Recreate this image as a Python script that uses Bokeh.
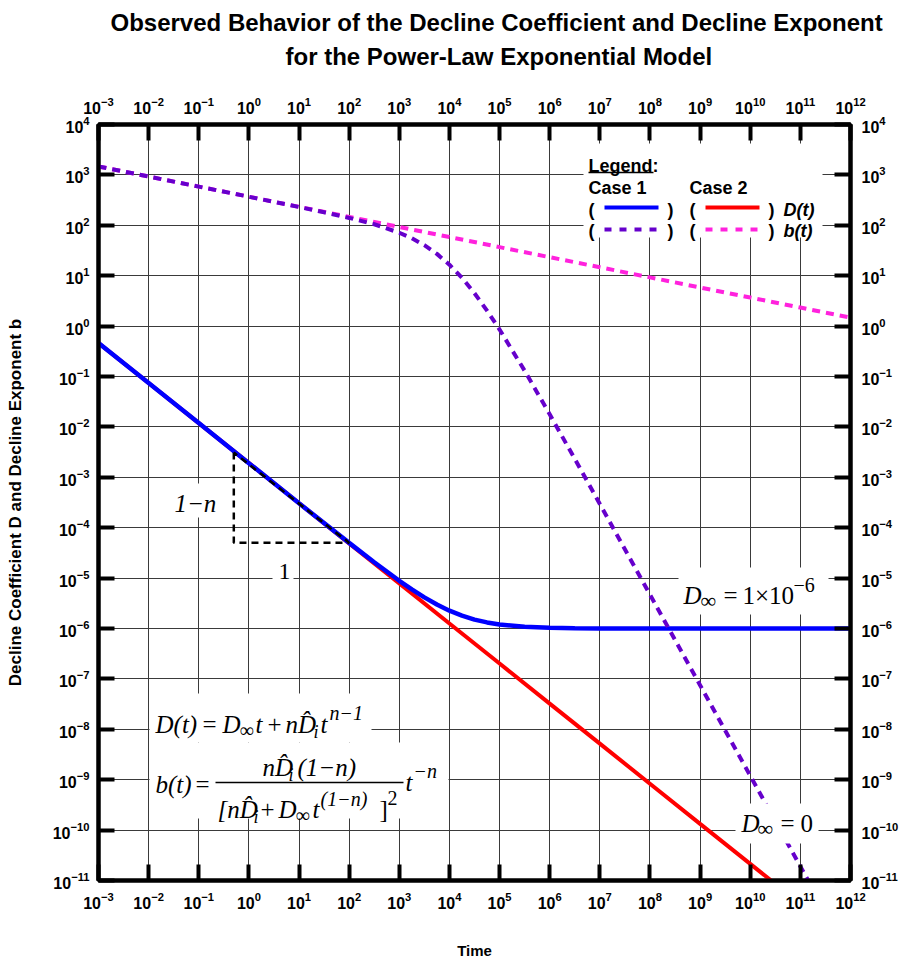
from bokeh.plotting import figure
from bokeh.models import LogAxis, FixedTicker, Label, Range1d, Title
from bokeh.embed import file_html
from bokeh.resources import INLINE

# ---------------- data ----------------
# Case 1 (D_inf = 1e-6): decline coefficient D(t)
t_D1 = [1e-3, 1e-2, 1e-1, 1.0, 10.0, 100.0, 316.2, 1e3, 1778.0, 3162.0, 5623.0,
        1e4, 17783.0, 31623.0, 56234.0, 1e5, 316228.0, 1e6, 3162278.0, 1e7, 1e8, 1e12]
D1 = [0.462, 0.0741, 0.0119, 1.91e-3, 3.05e-4, 5.0e-5, 2.06e-5, 8.85e-6, 5.97e-6, 4.14e-6, 2.99e-6,
      2.26e-6, 1.80e-6, 1.50e-6, 1.32e-6, 1.20e-6, 1.08e-6, 1.03e-6, 1.01e-6, 1.005e-6, 1.0e-6, 1.0e-6]

# Case 2 (D_inf = 0): decline coefficient D(t)
t_D2 = [1e-3, 1e-2, 1e-1, 1.0, 10.0, 100.0, 1e3, 1e4, 1e5, 1e6, 1e7, 1e8, 1e9, 1e10, 1e11]
D2 = [0.462, 0.0741, 0.0119, 1.91e-3, 3.05e-4, 4.90e-5, 7.85e-6, 1.26e-6, 2.02e-7, 3.24e-8,
      5.19e-9, 8.32e-10, 1.33e-10, 2.14e-11, 3.43e-12]

# Case 1: decline exponent b(t)
t_b1 = [1e-3, 1e-2, 1e-1, 1.0, 10.0, 31.62, 100.0, 316.2, 1e3, 1778.0, 3162.0, 5623.0,
        1e4, 17783.0, 31623.0, 56234.0, 1e5, 316228.0, 1e6, 3162278.0, 1e7, 1e8, 1e9, 1e10, 1e11, 3.162e11]
b1 = [1470.0, 927.0, 585.0, 369.0, 231.0, 181.0, 140.0, 105.0, 71.2, 55.3, 40.3, 27.1,
      16.5, 9.05, 4.49, 2.03, 0.855, 0.130, 0.0178, 2.32e-3, 2.96e-4, 4.7e-6, 7.5e-8, 1.2e-9, 1.9e-11, 2.4e-12]

# Case 2: decline exponent b(t)
t_b2 = [1e-3, 1e-2, 1e-1, 1.0, 10.0, 100.0, 1e3, 1e4, 1e5, 1e6, 1e7, 1e8, 1e9, 1e10, 1e11, 1e12]
b2 = [1470.0, 927.0, 585.0, 369.0, 233.0, 147.0, 92.6, 58.4, 36.9, 23.3, 14.7, 9.26, 5.84, 3.69, 2.33, 1.47]

# slope triangle (1 : 1-n)
tri_t = [0.5, 0.5, 100.0, 0.5]
tri_v = [3.1e-3, 5.0e-5, 5.0e-5, 3.1e-3]

x_exponents = list(range(-3, 13))
y_exponents = list(range(-11, 5))

TITLE1 = "Observed Behavior of the Decline Coefficient and Decline Exponent"
TITLE2 = "for the Power-Law Exponential Model"
XLABEL = "Time"
YLABEL = "Decline Coefficient D and Decline Exponent b"

# ---------------- figure ----------------
XMIN, XMAX = 1e-3, 1e12
YMIN, YMAX = 1e-11, 1e4

p = figure(width=902, height=962, x_axis_type="log", y_axis_type="log",
           x_range=Range1d(XMIN, XMAX), y_range=Range1d(YMIN, YMAX),
           output_backend="svg", toolbar_location=None,
           min_border_left=98, min_border_right=52, min_border_top=124, min_border_bottom=82)
p.background_fill_color = "white"
p.border_fill_color = "white"
p.outline_line_color = "black"
p.outline_line_width = 4

xticks = [10.0 ** k for k in x_exponents]
yticks = [10.0 ** k for k in y_exponents]

bottom_axis = p.below[0]
left_axis = p.left[0]
top_axis = LogAxis()
right_axis = LogAxis()
p.add_layout(top_axis, "above")
p.add_layout(right_axis, "right")

for ax in [bottom_axis, top_axis]:
    ax.ticker = FixedTicker(ticks=xticks, minor_ticks=[])
for ax in [left_axis, right_axis]:
    ax.ticker = FixedTicker(ticks=yticks, minor_ticks=[])

for ax in [bottom_axis, top_axis, left_axis, right_axis]:
    ax.axis_line_color = "black"
    ax.axis_line_width = 4
    ax.major_tick_in = 16
    ax.major_tick_out = 0
    ax.major_tick_line_width = 4
    ax.major_tick_line_color = "black"
    ax.minor_tick_line_color = None
    ax.major_label_text_font = "Liberation Sans"
    ax.major_label_text_font_style = "bold"
    ax.major_label_text_font_size = "16px"
    ax.major_label_text_color = "black"
left_axis.major_label_standoff = 9
right_axis.major_label_standoff = 11
top_axis.major_label_standoff = 11
bottom_axis.major_label_standoff = 11

bottom_axis.axis_label = XLABEL
left_axis.axis_label = YLABEL
for ax in [bottom_axis, left_axis]:
    ax.axis_label_text_font = "Liberation Sans"
    ax.axis_label_text_font_style = "bold"
    ax.axis_label_text_color = "black"
bottom_axis.axis_label_text_font_size = "15px"
left_axis.axis_label_text_font_size = "17px"
bottom_axis.axis_label_standoff = 30
left_axis.axis_label_standoff = 25

p.xgrid[0].ticker = FixedTicker(ticks=xticks, minor_ticks=[])
p.ygrid[0].ticker = FixedTicker(ticks=yticks, minor_ticks=[])
p.grid.grid_line_color = "#3a3a3a"
p.grid.grid_line_width = 1

# titles: spacer, line 2, line 1 (stacked outward from the top axis)
title_kw = dict(text_font="Liberation Sans", text_font_size="24px", text_font_style="bold",
                text_color="black", align="left")
p.add_layout(Title(text=" ", text_font_size="10px", standoff=6), "above")
p.add_layout(Title(text=TITLE2, offset=187, standoff=10, **title_kw), "above")
p.add_layout(Title(text=TITLE1, offset=12, standoff=0, **title_kw), "above")

# ---------------- annotation helpers (positions given in reference pixels) ----------------
PXD = 752 / 15.0
PYD = 756 / 15.0


def X(px):
    return 10 ** ((px - 98) / PXD - 3)


def Y(py):
    return 10 ** (4 - (py - 124) / PYD)


def wbox(x0, x1, y0, y1):
    p.quad(left=[X(x0)], right=[X(x1)], top=[Y(y0)], bottom=[Y(y1)],
           fill_color="white", fill_alpha=1.0, line_color=None)


def seg(x0, x1, y, color="black", width=1.5, dash="solid"):
    p.segment(x0=[X(x0)], y0=[Y(y)], x1=[X(x1)], y1=[Y(y)], line_color=color,
              line_width=width, line_dash=dash)


SERIF = "Liberation Serif"
SANS = "Liberation Sans"


def txt(text, px, py, size, style="italic", font=SERIF, align="left"):
    k = 0.23 if font == SERIF else 0.19   # baseline correction
    p.add_layout(Label(x=X(px), y=Y(py - k * size), text=text, text_font=font,
                       text_font_size=f"{size}px", text_font_style=style, text_color="black",
                       text_align=align, text_baseline="alphabetic"))


# ---------------- curves ----------------
BLUE, RED, PURPLE, MAGENTA = "#0000FF", "#FF0000", "#6600CC", "#FF22DD"
p.line(t_D2, D2, line_color=RED, line_width=4)
p.line(t_D1, D1, line_color=BLUE, line_width=4.5)
p.line(t_b2, b2, line_color=MAGENTA, line_width=4, line_dash="8 6")
p.line(t_b1, b1, line_color=PURPLE, line_width=4, line_dash="8 6")
p.line(tri_t, tri_v, line_color="black", line_width=2.5, line_dash="7 5")

# white patches behind texts (drawn over grid and curves)
wbox(149, 371, 693, 742)
wbox(149, 448, 742, 818)
wbox(168, 224, 483, 517)
wbox(272, 293, 560, 592)
wbox(678, 828, 567, 614)
wbox(735, 818, 803, 843)
wbox(583, 822, 143, 237)

# D(t) formula
txt("D(t)", 155, 730, 25)
txt("=", 202, 730, 25, "normal")
txt("D", 222, 730, 25)
txt("\u221e", 239, 734, 20, "normal")
txt("t", 255, 730, 25)
txt("+", 267, 730, 25, "normal")
txt("nD\u0302", 285, 730, 25)
txt("i", 313, 736, 18)
txt("t", 320, 730, 25)
txt("n\u22121", 329, 717, 20)

# b(t) formula
txt("b(t)", 155, 790, 25)
txt("=", 195, 790, 25, "normal")
txt("nD\u0302", 262, 773, 25)
txt("i", 288, 779, 18)
txt("(1\u2212n)", 297, 773, 25)
seg(215, 403, 782)
txt("[nD\u0302", 217, 815, 25)
txt("i", 253, 821, 18)
txt("+", 260, 815, 25, "normal")
txt("D", 278, 815, 25)
txt("\u221e", 295, 819, 20, "normal")
txt("t", 312, 815, 25)
txt("(1\u2212n)", 320, 803, 20)
txt("]", 379, 815, 25, "normal")
txt("2", 387, 802, 20, "normal")
txt("t", 405, 788, 25)
txt("\u2212n", 413, 775, 20)

# slope triangle labels
txt("1\u2212n", 174, 509, 25)
txt("1", 278, 577, 24, "normal")

# D_inf labels
txt("D", 683, 601, 25)
txt("\u221e", 700, 605, 22, "normal")
txt("=", 723, 601, 25, "normal")
txt("1\u00d710", 742, 601, 25, "normal")
txt("\u22126", 793, 589, 20, "normal")

txt("D", 741, 829, 25)
txt("\u221e", 757, 833, 22, "normal")
txt("=", 780, 829, 25, "normal")
txt("0", 800, 829, 25, "normal")

# legend
txt("Legend:", 588, 169, 18, "bold", SANS)
seg(588, 653, 172)
txt("Case 1", 588, 191, 18, "bold", SANS)
txt("Case 2", 689, 191, 18, "bold", SANS)
for base in (213, 234):
    txt("(", 588, base, 18, "bold", SANS)
    txt(")", 667, base, 18, "bold", SANS)
    txt("(", 689, base, 18, "bold", SANS)
    txt(")", 768, base, 18, "bold", SANS)
txt("D(t)", 783, 213, 18, "bold italic", SANS)
txt("b(t)", 783, 234, 18, "bold italic", SANS)
seg(604, 658, 207, BLUE, 4)
seg(705, 759, 207, RED, 4)
seg(604, 658, 229, PURPLE, 4, "7 8")
seg(705, 759, 229, MAGENTA, 4, "7 8")

open("out.html", "w").write(file_html(p, INLINE))
